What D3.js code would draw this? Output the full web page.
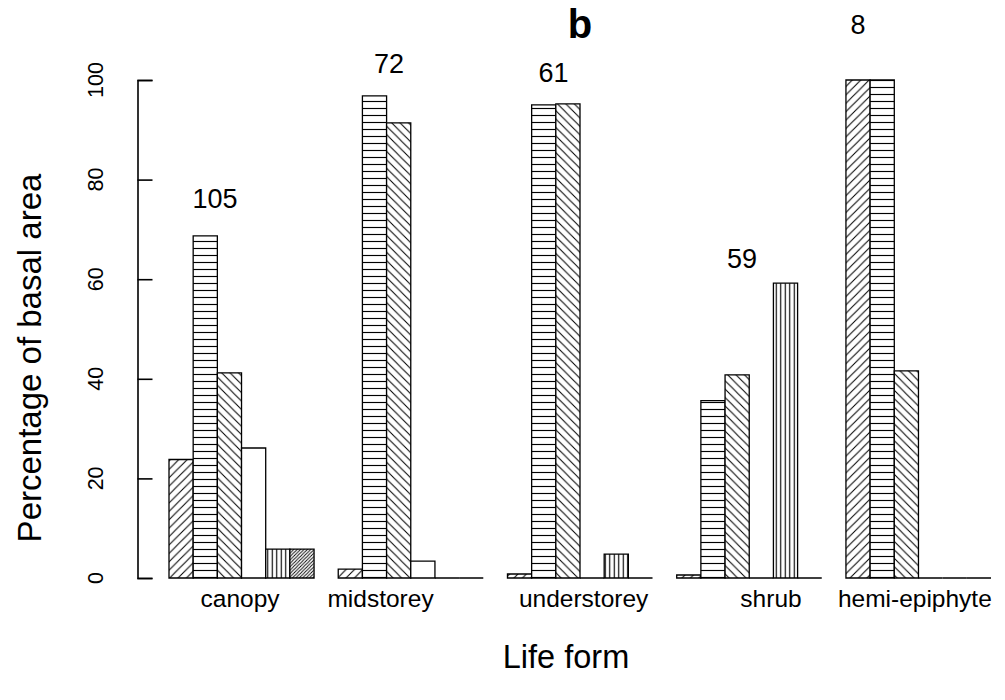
<!DOCTYPE html>
<html>
<head>
<meta charset="utf-8">
<script src="https://cdn.jsdelivr.net/npm/d3@7"></script>
<style>
  html, body { margin: 0; padding: 0; background: #fff; }
  svg { display: block; font-family: "Liberation Sans", Arial, Helvetica, sans-serif; }
</style>
</head>
<body>
<svg id="chart" width="1005" height="700"></svg>
<script>
// ---- data ----
const categories = ["canopy", "midstorey", "understorey", "shrub", "hemi-epiphyte"];
const seriesNames = ["s1", "s2", "s3", "s4", "s5", "s6"];
const s1 = [23.8, 1.8, 0.8, 0.6, 100];
const s2 = [68.7, 96.8, 95.0, 35.6, 100];
const s3 = [41.2, 91.4, 95.2, 40.8, 41.6];
const s4 = [26.1, 3.4, 0, 0, 0];
const s5 = [5.8, 0, 4.8, 59.2, 0];
const s6 = [5.8, 0, 0, 0, 0];
const counts = [105, 72, 61, 59, 8];
const yTicks = [0, 20, 40, 60, 80, 100];
// annotation anchors (bar units / data values)
const countAnchorUnit = [2.9, 10.1, 16.9, 24.7, 29.5];
const countAnchorValue = [74.3, 101.4, 99.6, 62.2, 109.2];
const catAnchorUnit = [3.94, 9.75, 18.15, 25.9, 31.85];

const svg = d3.select("#chart");
const defs = svg.append("defs");

function hatch(id, w, h, d, sw) {
  const p = defs.append("pattern").attr("id", id)
    .attr("patternUnits", "userSpaceOnUse").attr("width", w).attr("height", h);
  p.append("rect").attr("width", w).attr("height", h).attr("fill", "#fff");
  p.append("path").attr("d", d).attr("stroke", "#000").attr("stroke-width", sw).attr("fill", "none");
}
const a = 8.4;
hatch("p1", a, a, `M0,${a}L${a},0M${-a/2},${a/2}L${a/2},${-a/2}M${a/2},${a*1.5}L${a*1.5},${a/2}`, 1.05);
hatch("p2", 10, 7, "M0,3.5H10", 1.15);
hatch("p3", a, a, `M0,0L${a},${a}M${-a/2},${a/2}L${a/2},${a*1.5}M${a/2},${-a/2}L${a*1.5},${a/2}`, 1.05);
hatch("p5", 4.5, 10, "M2.25,0V10", 1.15);
const b = 3.4;
hatch("p6", b, b, `M0,${b}L${b},0M${-b/2},${b/2}L${b/2},${-b/2}M${b/2},${b*1.5}L${b*1.5},${b/2}`, 0.9);

const fills = ["url(#p1)", "url(#p2)", "url(#p3)", "#fff", "url(#p5)", "url(#p6)"];
const seriesData = [s1, s2, s3, s4, s5, s6];

const nSeries = seriesData.length;
const groupStep = nSeries + 1;
const x = d3.scaleLinear().domain([1, 1 + groupStep * (categories.length - 1) + nSeries]).range([169, 991]);
const y = d3.scaleLinear().domain([0, 100]).range([578, 80]);

// bars
const bars = [];
categories.forEach((c, g) => {
  seriesData.forEach((s, j) => {
    const u0 = 1 + groupStep * g + j;
    bars.push({ u0, u1: u0 + 1, v: s[g], fill: fills[j] });
  });
});
svg.append("g").selectAll("path").data(bars).join("path")
  .attr("d", d => {
    const x0 = x(d.u0), x1 = x(d.u1), y0 = y(0), y1 = y(d.v);
    return `M${x0},${y0}V${y1}H${x1}V${y0}Z`;
  })
  .attr("fill", d => d.fill)
  .attr("stroke", "#000")
  .attr("stroke-width", 1.3);

// y axis (ticks pointing into plot)
const axis = d3.axisLeft(y).tickValues(yTicks).tickSizeInner(-15).tickSizeOuter(-15).tickFormat("");
const axG = svg.append("g").attr("transform", "translate(137.5,0)").call(axis);
axG.selectAll("path,line").attr("stroke", "#000").attr("stroke-width", 1.6);

svg.append("g").selectAll("text").data(yTicks).join("text")
  .attr("transform", d => `translate(103,${y(d)}) rotate(-90)`)
  .attr("text-anchor", "middle")
  .attr("font-size", 21.5)
  .text(d => d);

// count labels
svg.append("g").selectAll("text").data(counts).join("text")
  .attr("x", (d, i) => x(countAnchorUnit[i]))
  .attr("y", (d, i) => y(countAnchorValue[i]))
  .attr("text-anchor", "middle")
  .attr("font-size", 27)
  .text(d => d);

// category labels
svg.append("g").selectAll("text").data(categories).join("text")
  .attr("x", (d, i) => x(catAnchorUnit[i]))
  .attr("y", 607)
  .attr("text-anchor", "middle")
  .attr("font-size", 24.5)
  .text(d => d);

// titles
svg.append("text").attr("x", 580).attr("y", 38).attr("text-anchor", "middle")
  .attr("font-size", 40).attr("font-weight", "bold").text("b");
svg.append("text").attr("x", 566).attr("y", 668).attr("text-anchor", "middle")
  .attr("font-size", 32.5).text("Life form");
svg.append("text").attr("transform", "translate(41,358) rotate(-90)").attr("text-anchor", "middle")
  .attr("font-size", 33).text("Percentage of basal area");
</script>
</body>
</html>
